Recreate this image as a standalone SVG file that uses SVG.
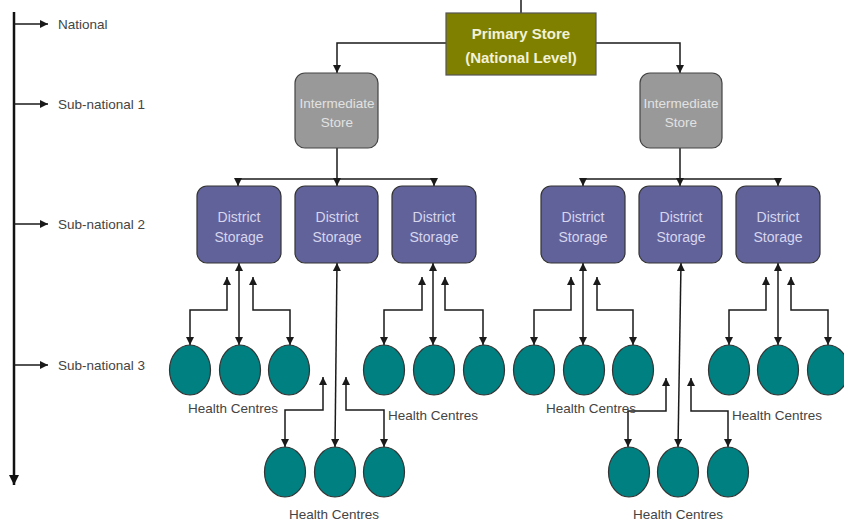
<svg xmlns="http://www.w3.org/2000/svg" width="844" height="524" viewBox="0 0 844 524">
<style>
.ln{fill:none;stroke:#1a1a1a;stroke-width:1.5}
.ar{marker-end:url(#ah)}
.ar2{marker-start:url(#ah);marker-end:url(#ah)}
.lvl{font-family:"Liberation Sans",Arial,sans-serif;font-size:13.5px;fill:#444}
.hc{font-family:"Liberation Sans",Arial,sans-serif;font-size:13.5px;fill:#444;text-anchor:middle}
.dist rect{fill:#62629b;stroke:#333;stroke-width:1.2}
.dist text{font-family:"Liberation Sans",Arial,sans-serif;font-size:14px;fill:#d6d6ee;text-anchor:middle}
.inter rect{fill:#999;stroke:#444;stroke-width:1.2}
.inter text{font-family:"Liberation Sans",Arial,sans-serif;font-size:13.5px;fill:#e2e2e2;text-anchor:middle}
.hcn ellipse{fill:#008080;stroke:#333;stroke-width:1.2}
</style>
<defs>
<marker id="ah" viewBox="0 0 10 10" refX="10" refY="5" markerWidth="8" markerHeight="8" markerUnits="userSpaceOnUse" orient="auto-start-reverse"><path d="M0,0 L10,5 L0,10 z" fill="#1a1a1a"/></marker>
<marker id="ahb" viewBox="0 0 10 10" refX="10" refY="5" markerWidth="10" markerHeight="10" markerUnits="userSpaceOnUse" orient="auto"><path d="M0,0 L10,5 L0,10 z" fill="#111"/></marker>
</defs>
<rect width="844" height="524" fill="#fff"/>

<g id="axis">
<line x1="14" y1="12" x2="14" y2="485" stroke="#111" stroke-width="2.5" marker-end="url(#ahb)"/>
<line x1="14" y1="24" x2="48" y2="24" class="ln ar"/>
<line x1="14" y1="104" x2="48" y2="104" class="ln ar"/>
<line x1="14" y1="224" x2="48" y2="224" class="ln ar"/>
<line x1="14" y1="365" x2="48" y2="365" class="ln ar"/>
<text x="58" y="29" class="lvl">National</text>
<text x="58" y="109" class="lvl">Sub-national 1</text>
<text x="58" y="229" class="lvl">Sub-national 2</text>
<text x="58" y="370" class="lvl">Sub-national 3</text>
</g>

<g id="connectors">
<line x1="521" y1="0" x2="521" y2="13" class="ln"/>
<polyline points="446,43 337,43 337,73" class="ln ar"/>
<polyline points="596,43 680,43 680,73" class="ln ar"/>
<line x1="337" y1="148" x2="337" y2="186" class="ln ar"/>
<line x1="238" y1="179" x2="434" y2="179" class="ln"/>
<line x1="238" y1="179" x2="238" y2="186" class="ln ar"/>
<line x1="434" y1="179" x2="434" y2="186" class="ln ar"/>
<line x1="680" y1="148" x2="680" y2="186" class="ln ar"/>
<line x1="583" y1="179" x2="778" y2="179" class="ln"/>
<line x1="583" y1="179" x2="583" y2="186" class="ln ar"/>
<line x1="778" y1="179" x2="778" y2="186" class="ln ar"/>

<line x1="239" y1="263" x2="239" y2="345" class="ln ar2"/>
<polyline points="227,277 227,310 190,310 190,345" class="ln ar2"/>
<polyline points="253,277 253,310 290,310 290,345" class="ln ar2"/>

<line x1="433" y1="263" x2="433" y2="345" class="ln ar2"/>
<polyline points="422,277 422,310 384,310 384,345" class="ln ar2"/>
<polyline points="445,277 445,310 483,310 483,345" class="ln ar2"/>

<line x1="337" y1="263" x2="335" y2="447" class="ln ar2"/>
<polyline points="323,377 323,410 285,410 285,447" class="ln ar2"/>
<polyline points="346,377 346,410 384,410 384,447" class="ln ar2"/>

<line x1="583" y1="263" x2="583" y2="345" class="ln ar2"/>
<polyline points="571,277 571,310 534,310 534,345" class="ln ar2"/>
<polyline points="597,277 597,310 633,310 633,345" class="ln ar2"/>

<line x1="681" y1="263" x2="678" y2="447" class="ln ar2"/>
<polyline points="666,378 666,411 628,411 628,447" class="ln ar2"/>
<polyline points="691,378 691,411 728,411 728,447" class="ln ar2"/>

<line x1="778" y1="263" x2="778" y2="345" class="ln ar2"/>
<polyline points="766,277 766,310 729,310 729,345" class="ln ar2"/>
<polyline points="791,277 791,310 828,310 828,345" class="ln ar2"/>
</g>

<g id="primary">
<rect x="446" y="13" width="150" height="62" fill="#808000" stroke="#555" stroke-width="1.2"/>
<text x="521" y="39" font-family="Liberation Sans,Arial,sans-serif" font-size="15" font-weight="bold" fill="#f2f2d8" text-anchor="middle">Primary Store</text>
<text x="521" y="63" font-family="Liberation Sans,Arial,sans-serif" font-size="15" font-weight="bold" fill="#f2f2d8" text-anchor="middle">(National Level)</text>
</g>

<g id="inter1" class="inter"><rect x="295" y="73" width="83" height="75" rx="10"/><text x="337" y="108">Intermediate</text><text x="337" y="127">Store</text></g>
<g id="inter2" class="inter"><rect x="640" y="73" width="82" height="75" rx="10"/><text x="681" y="108">Intermediate</text><text x="681" y="127">Store</text></g>

<g id="district1" class="dist"><rect x="197" y="186" width="84" height="77" rx="10"/><text x="239" y="222">District</text><text x="239" y="242">Storage</text></g>
<g id="district2" class="dist"><rect x="295" y="186" width="83" height="77" rx="10"/><text x="337" y="222">District</text><text x="337" y="242">Storage</text></g>
<g id="district3" class="dist"><rect x="392" y="186" width="84" height="77" rx="10"/><text x="434" y="222">District</text><text x="434" y="242">Storage</text></g>
<g id="district4" class="dist"><rect x="541" y="186" width="84" height="77" rx="10"/><text x="583" y="222">District</text><text x="583" y="242">Storage</text></g>
<g id="district5" class="dist"><rect x="639" y="186" width="83" height="77" rx="10"/><text x="681" y="222">District</text><text x="681" y="242">Storage</text></g>
<g id="district6" class="dist"><rect x="736" y="186" width="84" height="77" rx="10"/><text x="778" y="222">District</text><text x="778" y="242">Storage</text></g>

<g id="hc1" class="hcn"><ellipse cx="190" cy="370" rx="20.5" ry="25"/><ellipse cx="240" cy="370" rx="20.5" ry="25"/><ellipse cx="289" cy="370" rx="20.5" ry="25"/><text x="233" y="413" class="hc">Health Centres</text></g>
<g id="hc2" class="hcn"><ellipse cx="285" cy="472" rx="20.5" ry="25"/><ellipse cx="335" cy="472" rx="20.5" ry="25"/><ellipse cx="384" cy="472" rx="20.5" ry="25"/><text x="334" y="519" class="hc">Health Centres</text></g>
<g id="hc3" class="hcn"><ellipse cx="384" cy="370" rx="20.5" ry="25"/><ellipse cx="434" cy="370" rx="20.5" ry="25"/><ellipse cx="484" cy="370" rx="20.5" ry="25"/><text x="433" y="420" class="hc">Health Centres</text></g>
<g id="hc4" class="hcn"><ellipse cx="534" cy="370" rx="20.5" ry="25"/><ellipse cx="584" cy="370" rx="20.5" ry="25"/><ellipse cx="633" cy="370" rx="20.5" ry="25"/><text x="591" y="413" class="hc">Health Centres</text></g>
<g id="hc5" class="hcn"><ellipse cx="629" cy="472" rx="20.5" ry="25"/><ellipse cx="678" cy="472" rx="20.5" ry="25"/><ellipse cx="728" cy="472" rx="20.5" ry="25"/><text x="678" y="519" class="hc">Health Centres</text></g>
<g id="hc6" class="hcn"><ellipse cx="729" cy="370" rx="20.5" ry="25"/><ellipse cx="778" cy="370" rx="20.5" ry="25"/><ellipse cx="828" cy="370" rx="20.5" ry="25"/><text x="777" y="420" class="hc">Health Centres</text></g>
</svg>
